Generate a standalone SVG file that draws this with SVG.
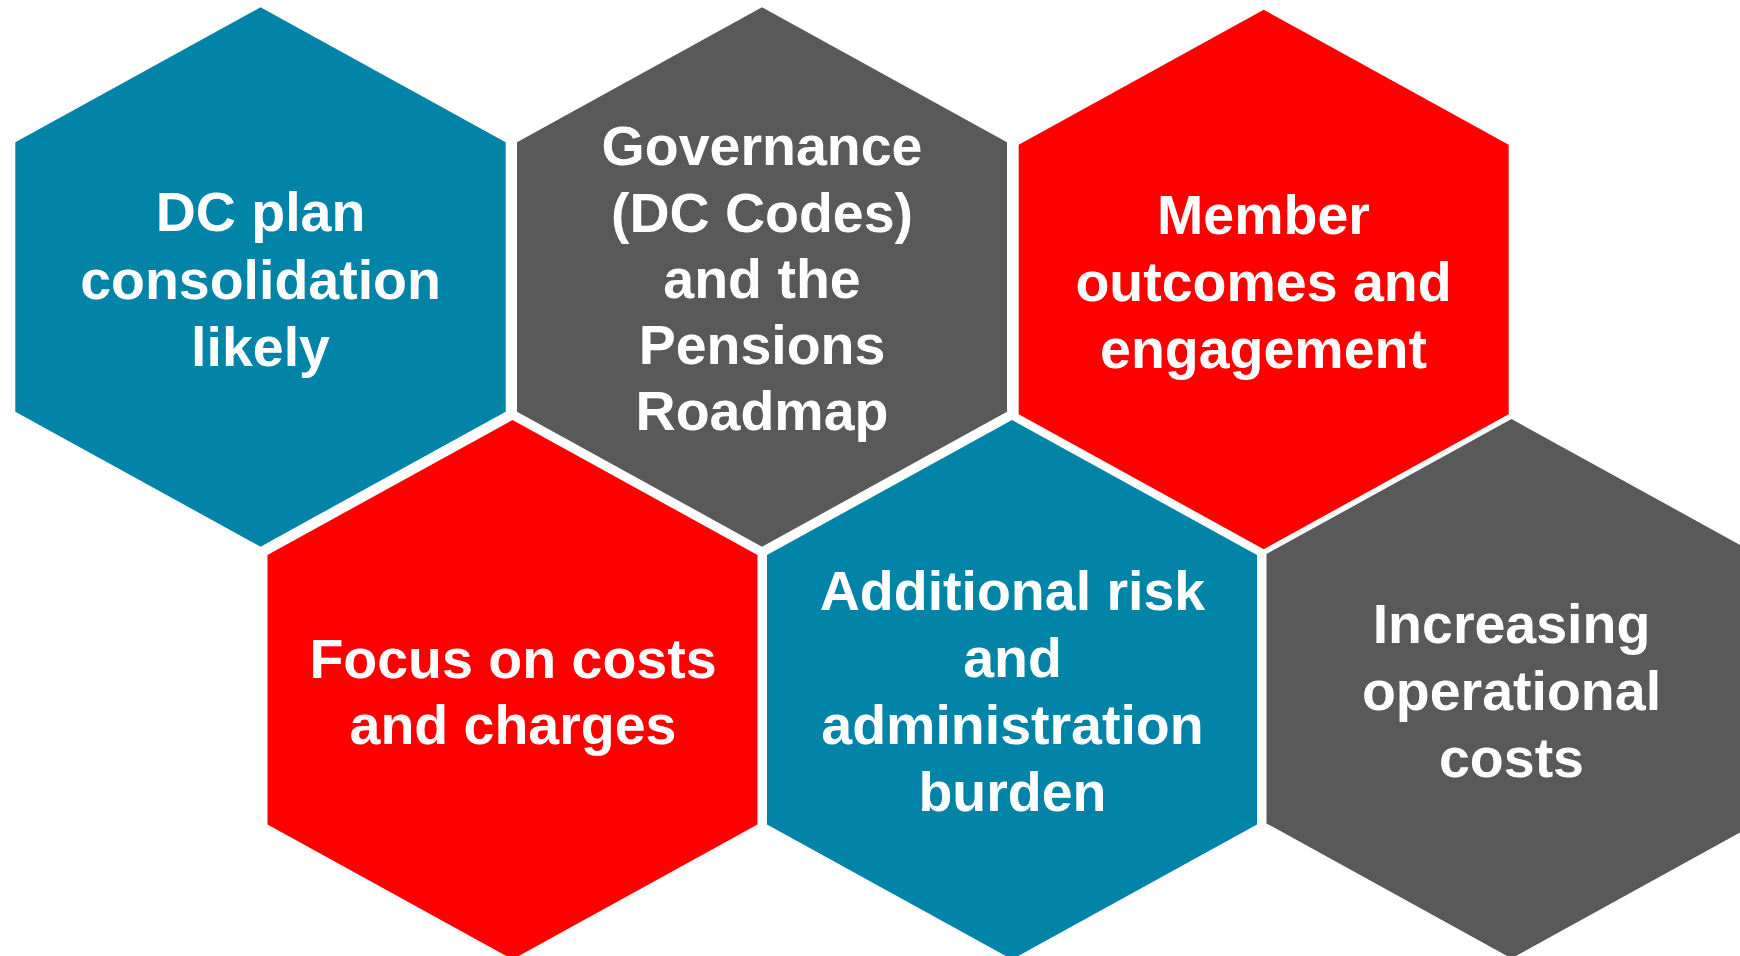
<svg xmlns="http://www.w3.org/2000/svg" width="1740" height="956" viewBox="0 0 1740 956">
<style>
.blue{fill:#0284A9}
.grey{fill:#595959}
.red{fill:#FF0000}
.t{font-family:"Liberation Sans",Arial,sans-serif;font-weight:bold;font-size:55.5px;fill:#FFFFFF;text-anchor:middle}
</style>
<rect x="0" y="0" width="1740" height="956" fill="#FFFFFF"/>
<g id="connectors"></g>
<g id="hex-dc-plan">
<polygon class="blue" points="260.5,7.3 505.7,142.3 505.7,411.7 260.5,546.7 15.3,411.7 15.3,142.3"/>
<text class="t" x="260.5" y="231.4">DC plan</text>
<text class="t" x="260.5" y="298.5">consolidation</text>
<text class="t" x="260.5" y="366">likely</text>
</g>
<g id="hex-governance">
<polygon class="grey" points="762,7.3 1007,142.3 1007,411.7 762,546.7 517,411.7 517,142.3"/>
<text class="t" x="762" y="165">Governance</text>
<text class="t" x="762" y="232">(DC Codes)</text>
<text class="t" x="762" y="298">and the</text>
<text class="t" x="762" y="364">Pensions</text>
<text class="t" x="762" y="430">Roadmap</text>
</g>
<g id="hex-member">
<polygon class="red" points="1263.7,9.8 1508.7,144.8 1508.7,414.2 1263.7,549.2 1018.7,414.2 1018.7,144.8"/>
<text class="t" x="1263.5" y="234">Member</text>
<text class="t" x="1263.5" y="301">outcomes and</text>
<text class="t" x="1263.5" y="368">engagement</text>
</g>
<g id="hex-focus">
<polygon class="red" points="512.5,420 757.5,555 757.5,824.4 512.5,959.4 267.5,824.4 267.5,555"/>
<text class="t" x="513" y="677.7">Focus on costs</text>
<text class="t" x="513" y="744">and charges</text>
</g>
<g id="hex-additional">
<polygon class="blue" points="1012,420 1257,555 1257,824.4 1012,959.4 767,824.4 767,555"/>
<text class="t" x="1012.5" y="610">Additional risk</text>
<text class="t" x="1012.5" y="677">and</text>
<text class="t" x="1012.5" y="744">administration</text>
<text class="t" x="1012.5" y="811">burden</text>
</g>
<g id="hex-increasing">
<polygon class="grey" points="1511.5,419 1756.5,554 1756.5,823.4 1511.5,958.4 1266.5,823.4 1266.5,554"/>
<text class="t" x="1511.5" y="643">Increasing</text>
<text class="t" x="1511.5" y="710">operational</text>
<text class="t" x="1511.5" y="777">costs</text>
</g>
</svg>
